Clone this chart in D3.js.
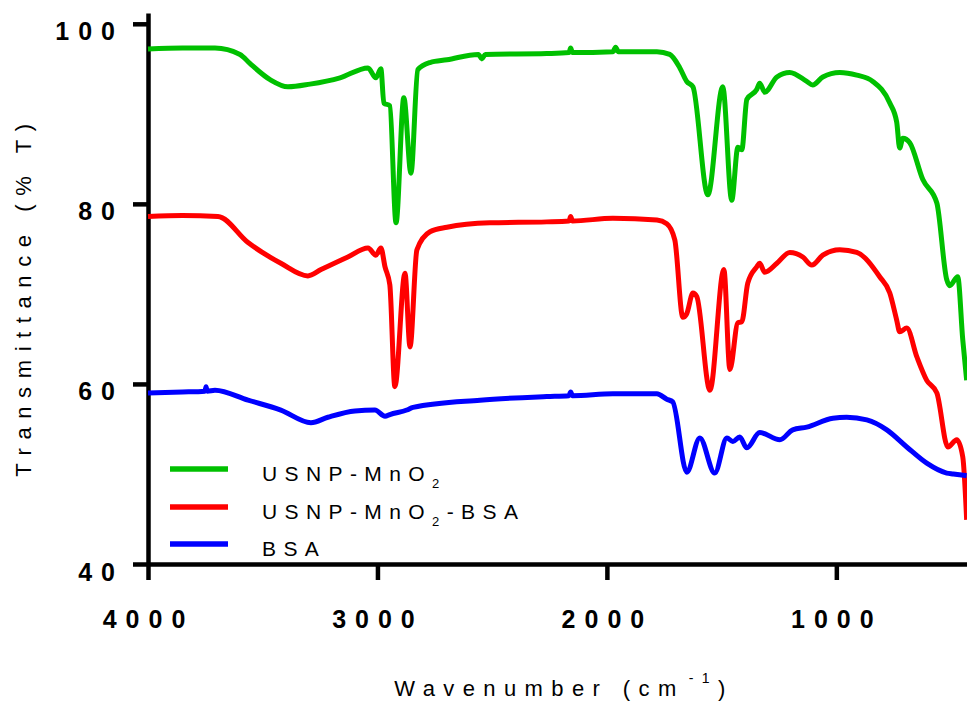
<!DOCTYPE html>
<html>
<head>
<meta charset="utf-8">
<script src="https://cdn.jsdelivr.net/npm/d3@7"></script>
<style>
  body { margin: 0; background: #fff; }
  text { font-family: "Liberation Sans", Arial, sans-serif; }
</style>
</head>
<body>
<div id="vis-container"></div>
<script>
// FTIR spectra, values: [wavenumber, %T]
const usnpMnO2 = [
  [4000, 97.2], [3850, 97.3], [3708, 97.3], [3599, 96.6], [3556, 95.6], [3468, 93.8],
  [3390, 93.0], [3294, 93.3], [3163, 94.0], [3041, 95.1], [3007, 94.0], [2985, 95.0],
  [2972, 91.2], [2946, 90.9], [2919, 77.9], [2885, 91.8], [2854, 83.4], [2824, 94.9],
  [2771, 95.7], [2697, 96.0], [2560, 96.6], [2545, 96.1], [2530, 96.6], [2262, 96.7],
  [2165, 96.8], [2158, 97.3], [2150, 96.8], [1974, 96.9], [1962, 97.4], [1950, 96.9],
  [1782, 96.9], [1726, 96.6], [1682, 95.1], [1652, 93.6], [1625, 93.0], [1560, 81.0],
  [1495, 93.0], [1456, 80.4], [1429, 86.3], [1412, 86.0], [1390, 91.6], [1347, 92.7],
  [1334, 93.4], [1312, 92.4], [1259, 94.1], [1203, 94.6], [1129, 93.6], [1103, 93.2],
  [1059, 94.1], [985, 94.6], [911, 94.3], [841, 93.6], [767, 91.2], [737, 89.1],
  [724, 86.2], [710, 87.3], [680, 86.8], [623, 82.7], [562, 80.1], [519, 71.6],
  [506, 70.9], [471, 71.9], [449, 64.9], [432, 60.4]
];

const usnpMnO2Bsa = [
  [4000, 78.6], [3850, 78.7], [3695, 78.6], [3564, 75.7], [3421, 73.4], [3303, 72.0],
  [3246, 72.7], [3129, 74.1], [3041, 75.1], [3007, 74.3], [2985, 75.1], [2967, 73.0],
  [2946, 71.0], [2924, 59.7], [2880, 72.3], [2858, 64.1], [2828, 74.9], [2771, 76.9],
  [2697, 77.4], [2510, 77.9], [2262, 78.0], [2165, 78.1], [2158, 78.6], [2150, 78.1],
  [1974, 78.4], [1782, 78.2], [1739, 77.8], [1704, 76.0], [1669, 67.4], [1652, 67.8],
  [1625, 70.1], [1608, 69.7], [1551, 59.3], [1490, 72.7], [1464, 61.6], [1429, 66.8],
  [1412, 66.9], [1386, 71.2], [1347, 73.0], [1334, 73.4], [1312, 72.4], [1259, 73.4],
  [1203, 74.6], [1146, 74.1], [1107, 73.2], [1059, 74.3], [985, 74.9], [911, 74.6],
  [811, 71.9], [767, 70.1], [737, 67.1], [724, 65.8], [693, 66.2], [649, 63.0],
  [606, 60.4], [562, 59.0], [514, 53.0], [475, 53.8], [449, 51.9], [432, 44.9]
];

const bsa = [
  [4000, 59.0], [3850, 59.1], [3752, 59.2], [3747, 59.7], [3742, 59.2], [3708, 59.3],
  [3564, 58.2], [3421, 57.1], [3290, 55.7], [3216, 56.3], [3098, 57.0], [3011, 57.1],
  [2967, 56.4], [2946, 56.6], [2872, 57.1], [2845, 57.4], [2553, 58.2], [2262, 58.6],
  [2165, 58.7], [2158, 59.1], [2150, 58.7], [1974, 58.9], [1782, 58.9], [1739, 58.3],
  [1713, 58.0], [1652, 50.2], [1595, 54.0], [1530, 50.1], [1477, 54.0], [1451, 53.6],
  [1421, 54.1], [1390, 52.9], [1334, 54.6], [1246, 53.8], [1190, 54.9], [1129, 55.2],
  [1015, 56.2], [955, 56.3], [867, 56.0], [780, 54.9], [693, 53.0], [606, 51.2],
  [519, 50.1], [490, 50.0], [432, 49.8]
];

const seriesNames = ["USNP-MnO", "USNP-MnO", "BSA"];
const seriesColors = ["#00c000", "#ff0000", "#0000ff"];
const xTicks = [4000, 3000, 2000, 1000];
const yTicks = [40, 60, 80, 100];

const width = 967;
const height = 702;

const svg = d3.select("#vis-container")
  .append("svg")
  .attr("width", width)
  .attr("height", height);

// wavenumber runs right-to-left
const x = d3.scaleLinear().domain([4000, 400]).range([148, 974]);
const y = d3.scaleLinear().domain([40, 101.2]).range([564, 13]);

// axes
const xAxis = svg.append("g")
  .attr("transform", "translate(0," + y(40) + ")")
  .call(d3.axisBottom(x).tickValues(xTicks).tickSize(16).tickSizeOuter(0).tickPadding(30)
    .tickFormat(d3.format("d")));

const yAxis = svg.append("g")
  .attr("transform", "translate(" + x(4000) + ",0)")
  .call(d3.axisLeft(y).tickValues(yTicks).tickSize(15).tickSizeOuter(0).tickPadding(9));

[xAxis, yAxis].forEach(function (ax) {
  ax.select(".domain").attr("stroke", "#000").attr("stroke-width", 4.5);
  ax.selectAll(".tick line").attr("stroke", "#000").attr("stroke-width", 4.5);
  ax.selectAll(".tick text")
    .attr("fill", "#000")
    .style("font-size", "25px")
    .style("font-weight", "bold")
    .style("letter-spacing", "9px");
});
yAxis.selectAll(".tick text").attr("dy", "0.64em");

// spectra
const line = d3.line()
  .x(function (d) { return x(d[0]); })
  .y(function (d) { return y(d[1]); })
  .curve(d3.curveMonotoneX);

[usnpMnO2, usnpMnO2Bsa, bsa].forEach(function (data, i) {
  svg.append("path")
    .datum(data)
    .attr("fill", "none")
    .attr("stroke", seriesColors[i])
    .attr("stroke-width", 5)
    .attr("stroke-linejoin", "round")
    .attr("d", line);
});

// legend
const legendY = [469, 507, 544];
seriesNames.forEach(function (name, i) {
  svg.append("line")
    .attr("x1", 170).attr("x2", 228)
    .attr("y1", legendY[i]).attr("y2", legendY[i])
    .attr("stroke", seriesColors[i])
    .attr("stroke-width", 5.5);

  const t = svg.append("text")
    .attr("x", 262)
    .attr("y", legendY[i] + 12)
    .style("font-size", "21px")
    .style("letter-spacing", "7.4px")
    .attr("fill", "#000")
    .text(name);
  if (i < 2) {
    t.append("tspan").attr("dy", 7).style("font-size", "13px").text("2");
    if (i === 1) t.append("tspan").attr("dy", -7).text("-BSA");
  }
});

// axis titles
svg.append("text")
  .attr("transform", "translate(31,296) rotate(-90)")
  .attr("text-anchor", "middle")
  .style("font-size", "22px")
  .style("letter-spacing", "8.6px")
  .attr("fill", "#000")
  .text("Transmittance (% T)");

const xt = svg.append("text")
  .attr("x", 564)
  .attr("y", 696)
  .attr("text-anchor", "middle")
  .style("font-size", "22px")
  .style("letter-spacing", "8.4px")
  .attr("fill", "#000")
  .text("Wavenumber (cm");
xt.append("tspan").attr("dy", -13).attr("dx", 4).style("font-size", "14px").text("-1");
xt.append("tspan").attr("dy", 13).text(")");
</script>
</body>
</html>
